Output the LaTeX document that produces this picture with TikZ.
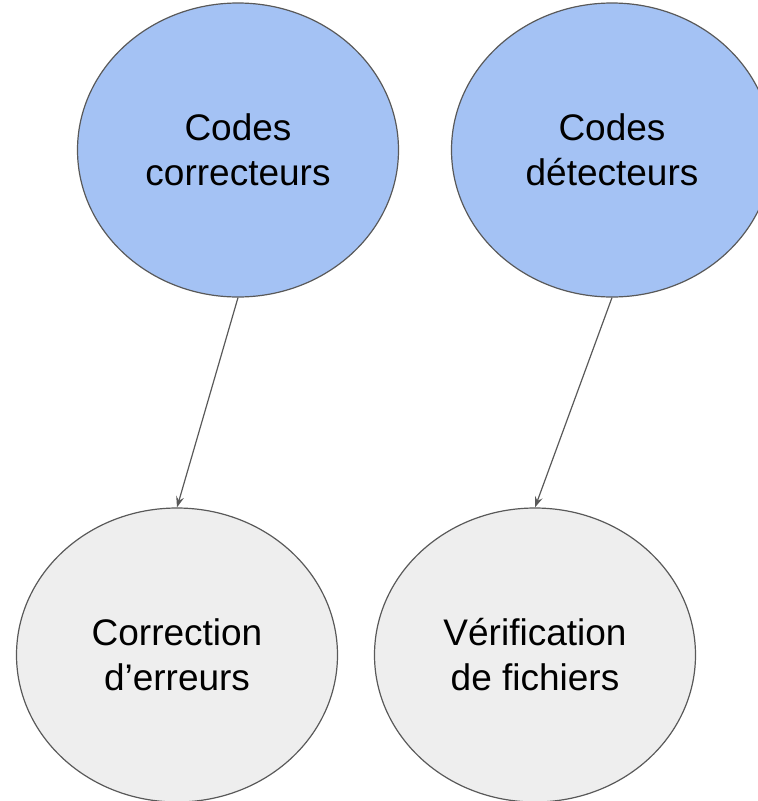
\documentclass[tikz,border=0pt]{standalone}
\usepackage{fontspec}
\setmainfont{Liberation Sans}
\usetikzlibrary{shapes.geometric,arrows.meta}
\definecolor{blueFill}{HTML}{A4C2F4}
\definecolor{grayFill}{HTML}{EEEEEE}
\definecolor{lineGray}{HTML}{595959}
\tikzset{
  bubble/.style={ellipse, draw=lineGray, line width=1.2pt, minimum width=321pt, minimum height=294pt, inner sep=0pt, align=center, font=\fontsize{37}{45}\selectfont},
  bluebubble/.style={bubble, fill=blueFill},
  graybubble/.style={bubble, fill=grayFill},
  link/.style={draw=lineGray, line width=1.2pt, -{Stealth[length=11pt,width=8pt,inset=4pt]}}
}
\begin{document}
\begin{tikzpicture}[x=1pt,y=-1pt]
\useasboundingbox (0,0) rectangle (758,801);
\node[bluebubble] (cc) at (238,150) {Codes\\correcteurs};
\node[bluebubble] (cd) at (612,150) {Codes\\détecteurs};
\node[graybubble] (ce) at (177,655) {Correction\\d’erreurs};
\node[graybubble] (vf) at (535,655) {Vérification\\de fichiers};
\draw[link] (cc.south) -- (ce.north);
\draw[link] (cd.south) -- (vf.north);
\end{tikzpicture}
\end{document}
